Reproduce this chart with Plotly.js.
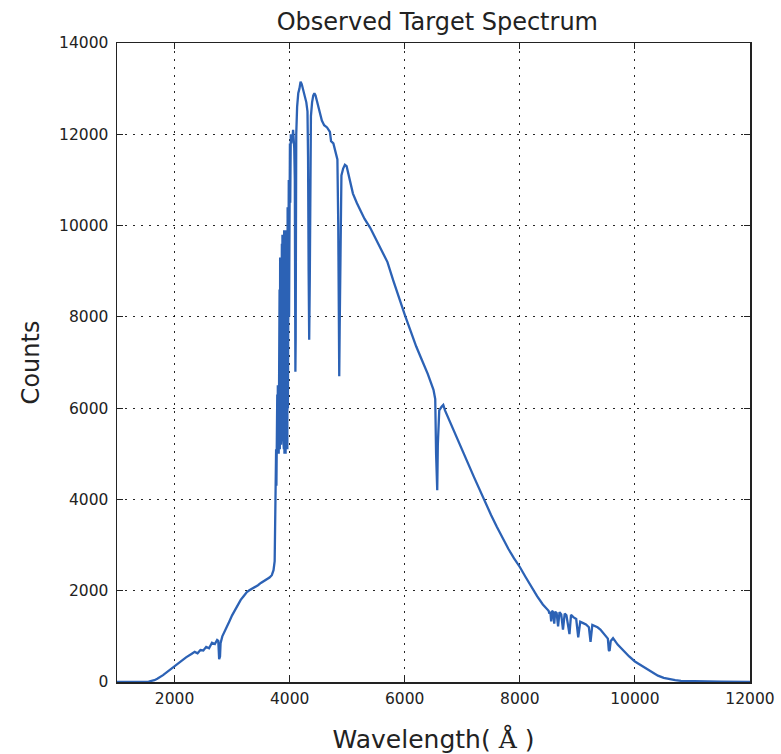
<!DOCTYPE html>
<html>
<head>
<meta charset="utf-8">
<script src="https://cdn.plot.ly/plotly-3.0.1.min.js"></script>
<style>html,body{margin:0;padding:0;background:#fff;}#chart{width:781px;height:754px;}</style>
</head>
<body>
<div id="chart"></div>
<script>
// Wavelength (Angstrom) and observed counts
const wavelength = [
  1000,1300,1500,1550,1650,1700,1800,1900,2000,2100,2200,2300,2350,2400,2450,2500,2550,2600,2650,2700,2740,2760,2775,2790,2800,2830,
  2900,2950,3000,3050,3100,3150,3200,3257,3300,3360,3400,3450,3500,3550,3600,3650,3690,3720,3740,3750,3760,
  3765,3770,3775,3780,3785,3790,3795,3800,3805,3810,3815,3820,3825,3830,3835,3840,3845,3850,3855,3860,3865,3870,3875,3880,3885,3890,3895,
  3900,3905,3910,3915,3920,3925,3930,3935,3940,3945,3950,3955,3960,3965,3970,3975,3980,3985,3990,3995,4000,4005,4010,4020,4030,4040,
  4050,4060,4070,4080,4090,4095,4100,4105,4110,4115,4130,4150,4170,4190,4210,4230,4250,4270,4290,4310,4320,4330,4340,4350,4360,4370,
  4390,4410,4430,4450,4470,4500,4530,4560,4600,4650,4700,4720,4760,4800,4830,4845,4855,4862,4870,4885,4900,4930,4960,4990,5050,5100,
  5170,5250,5300,5400,5500,5600,5700,5800,5900,6000,6100,6200,6300,6400,6500,6530,6545,6555,6565,6575,6600,6640,6670,6700,6800,6900,
  7000,7100,7200,7300,7400,7500,7600,7700,7800,7900,8000,8100,8200,8300,8400,8480,8500,8515,8530,8545,8560,8580,8598,8615,8640,8665,
  8690,8720,8750,8780,8810,8863,8890,8930,8980,9015,9050,9100,9150,9200,9229,9260,9300,9350,9400,9450,9500,9530,9546,9560,9580,9620,
  9700,9800,9900,10000,10100,10200,10300,10400,10500,10600,10700,10800,11000,11500,12000
];
const counts = [
  0,0,0,10,40,70,150,250,350,450,540,620,660,630,700,690,770,740,860,830,920,900,500,560,850,1000,
  1170,1320,1460,1580,1700,1800,1880,1970,2010,2050,2080,2120,2170,2210,2240,2290,2340,2450,2650,3300,4200,
  5100,4300,5600,4900,6300,5000,6500,5100,6400,5000,7200,5200,8600,5100,9300,5300,9200,5200,9300,5600,9600,5400,9800,5800,9700,5300,9800,
  5100,9900,5000,9700,5300,9800,5000,9400,5200,9900,5600,10100,5100,10400,6000,10600,7000,11000,8000,11500,9000,11800,10500,12000,11800,12000,
  11900,12100,11900,11700,11000,9000,6800,7500,10000,12000,12600,12900,13000,13150,13100,13000,12950,12800,12700,12500,11500,9000,7500,8800,11500,12400,
  12700,12850,12900,12850,12750,12600,12500,12300,12200,12150,12050,11850,11800,11600,11450,10000,7500,6700,7800,10500,11100,11250,11330,11300,11000,10700,
  10490,10300,10150,9950,9700,9450,9200,8800,8400,8050,7700,7350,7050,6750,6400,6200,5000,4200,4200,5200,5950,6030,6070,5950,5650,5370,
  5080,4790,4500,4210,3930,3660,3400,3150,2920,2710,2520,2300,2080,1880,1700,1600,1560,1500,1540,1330,1560,1530,1280,1540,1510,1220,
  1530,1480,1150,1500,1460,1050,1470,1420,1380,980,1320,1290,1260,1200,880,1250,1230,1200,1150,1080,1000,950,700,680,900,960,
  820,680,560,450,370,300,220,140,90,60,40,25,15,5,0
];
const xTicks = [2000, 4000, 6000, 8000, 10000, 12000];
const yTicks = [0, 2000, 4000, 6000, 8000, 10000, 12000, 14000];

const axisCommon = {
  showline: true, linecolor: '#222', linewidth: 1.5, mirror: 'ticks',
  ticks: 'inside', ticklen: 6, tickcolor: '#222', tickwidth: 1,
  showgrid: true, gridcolor: 'rgba(0,0,0,0.85)', griddash: '2px,6px', gridwidth: 1,
  zeroline: false,
  tickfont: {family: 'DejaVu Sans', size: 15.5, color: '#222'}
};

const trace = {
  x: wavelength, y: counts, type: 'scatter', mode: 'lines',
  line: {color: '#2c62b5', width: 2.3},
  hoverinfo: 'skip'
};

const layout = {
  width: 781, height: 754,
  margin: {l: 117, r: 31, t: 43, b: 72},
  paper_bgcolor: '#fff', plot_bgcolor: '#fff',
  showlegend: false,
  title: {text: 'Observed Target Spectrum', font: {family: 'DejaVu Sans', size: 24, color: '#222'},
          x: 0.56, xanchor: 'center', y: 0.971, yanchor: 'middle'},
  xaxis: Object.assign({}, axisCommon, {
    range: [1000, 12000], tickmode: 'array', tickvals: xTicks, ticktext: xTicks.map(String),
    ticklabelstandoff: 2,
    title: {text: 'Wavelength( <span style="font-family:DejaVu Serif">Å</span> )', font: {family: 'DejaVu Sans', size: 25, color: '#222'}, standoff: 26}
  }),
  yaxis: Object.assign({}, axisCommon, {
    range: [0, 14000], tickmode: 'array', tickvals: yTicks, ticktext: yTicks.map(String),
    ticklabelstandoff: 4,
    title: {text: 'Counts', font: {family: 'DejaVu Sans', size: 24, color: '#222'}, standoff: 12}
  })
};

Plotly.newPlot('chart', [trace], layout, {displayModeBar: false, staticPlot: true});
</script>
</body>
</html>
